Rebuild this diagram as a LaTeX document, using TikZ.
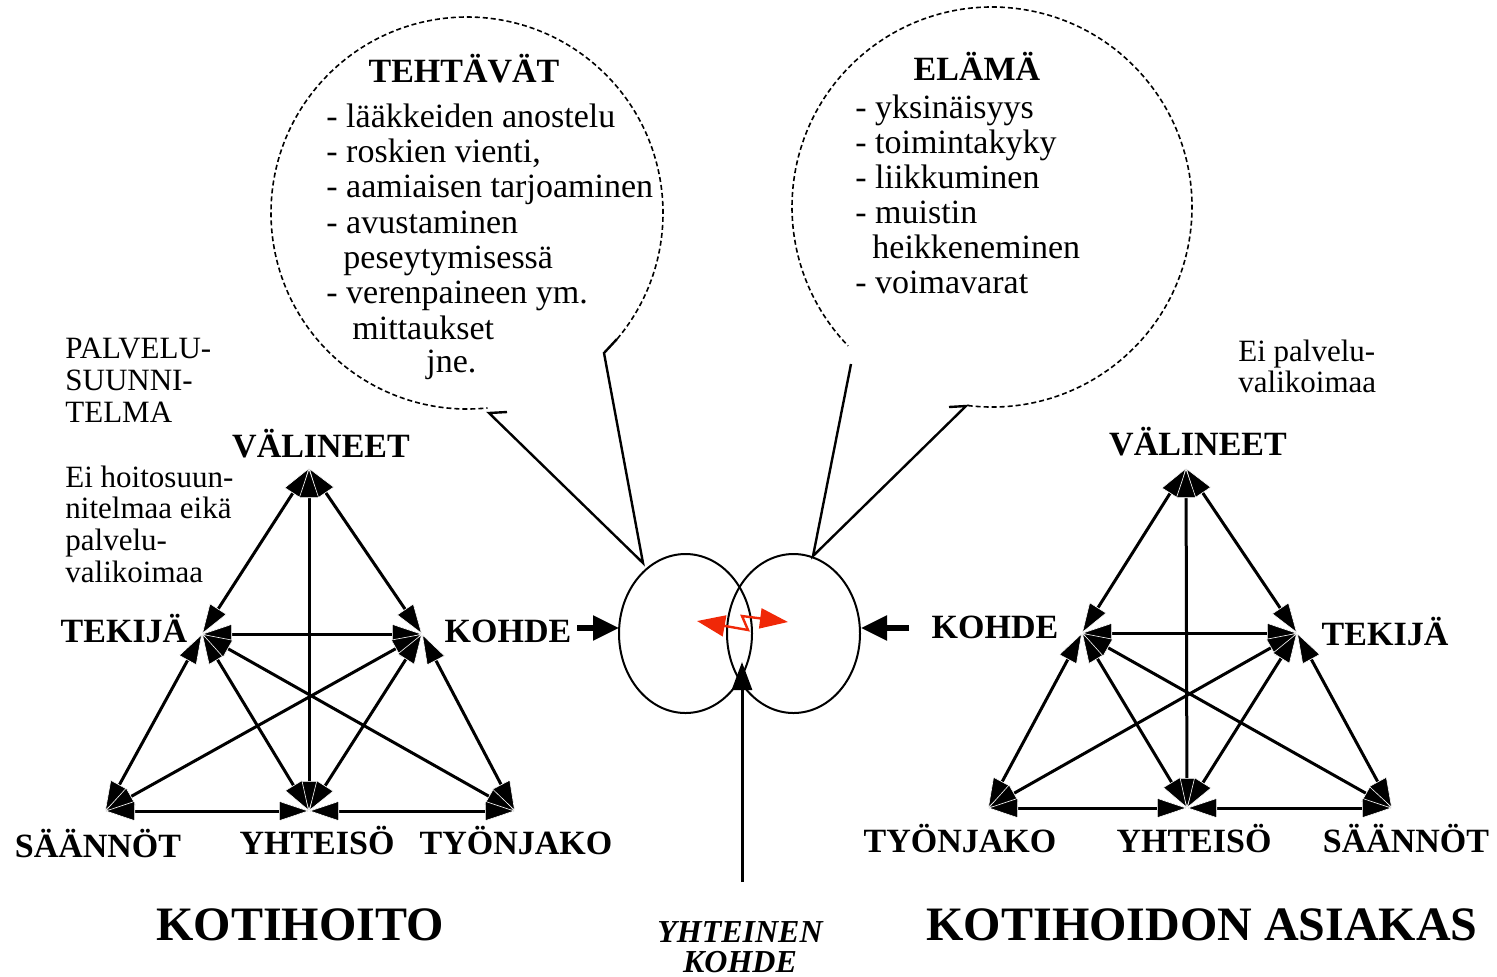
\documentclass[tikz,border=0pt]{standalone}
\usepackage{fontspec}
\setmainfont{Liberation Serif}
\usetikzlibrary{arrows.meta,shapes.geometric}
\begin{document}
\begin{tikzpicture}[x=0.5pt,y=-0.5pt,
  lab/.style={font=\fontsize{17}{17}\selectfont\bfseries, inner sep=0pt, anchor=base},
  title/.style={font=\fontsize{24}{24}\selectfont\bfseries, inner sep=0pt, anchor=base},
  body/.style={font=\fontsize{17}{17}\selectfont, inner sep=0pt, anchor=base west},
  side/.style={font=\fontsize{15.5}{15.5}\selectfont, inner sep=0pt, anchor=base west},
  tri/.style={line width=1.5pt, {Triangle[length=15pt,width=10pt,fill=black,color=white,line width=0.3pt]}-{Triangle[length=15pt,width=10pt,fill=black,color=white,line width=0.3pt]}},
  bubble/.style={line width=0.8pt, dash pattern=on 2.5pt off 1.5pt},
  tail/.style={line width=1.2pt, line join=miter},
  big/.style={line width=2.6pt, -{Triangle[length=13pt,width=12pt]}},
  bolt/.style={draw=boltred, line width=1.2pt, {Triangle[length=14pt,width=10.5pt]}-{Triangle[length=14pt,width=10pt]}},
  oval/.style={ellipse, draw, line width=1pt, inner sep=0pt, minimum width=66.5pt, minimum height=79.5pt}
]
\definecolor{boltred}{RGB}{240,40,8}
\useasboundingbox (0,0) rectangle (1497,976);

% ---------- speech bubbles ----------
\draw[bubble] (467,213) ++(40:196) arc[start angle=40, end angle=-276, radius=196];
\draw[tail] (617,339) -- (604,353) -- (643,563) -- (489,413) -- (507,412);
\draw[bubble] (992,207) ++(97:200) arc[start angle=97, end angle=-224, radius=200];
\draw[tail] (949,407) -- (966,406) -- (813,556) -- (851,364);

\node[lab] (teh) at (464,82) {TEHTÄVÄT};
\node[body] (t1) at (326,127) {- lääkkeiden anostelu};
\node[body] (t2) at (326,162) {- roskien vienti,};
\node[body] (t3) at (326,197) {- aamiaisen tarjoaminen};
\node[body] (t4) at (326,233) {- avustaminen};
\node[body] (t5) at (343,268) {peseytymisessä};
\node[body] (t6) at (326,303) {- verenpaineen ym.};
\node[body] (t7) at (352,339) {mittaukset};
\node[body] (t8) at (426,372) {jne.};

\node[lab] (ela) at (977,80) {ELÄMÄ};
\node[body] (e1) at (855,118) {- yksinäisyys};
\node[body] (e2) at (855,153) {- toimintakyky};
\node[body] (e3) at (855,188) {- liikkuminen};
\node[body] (e4) at (855,223) {- muistin};
\node[body] (e5) at (872,258) {heikkeneminen};
\node[body] (e6) at (855,293) {- voimavarat};

% ---------- side notes ----------
\node[side] (p1) at (65,358) {PALVELU-};
\node[side] (p2) at (65,390) {SUUNNI-};
\node[side] (p3) at (65,422) {TELMA};
\node[side] (h1) at (65,487) {Ei hoitosuun-};
\node[side] (h2) at (65,518) {nitelmaa eikä};
\node[side] (h3) at (65,550) {palvelu-};
\node[side] (h4) at (65,582) {valikoimaa};
\node[side] (r1) at (1238,361) {Ei palvelu-};
\node[side] (r2) at (1238,392) {valikoimaa};

% ---------- left triangle ----------
\node[lab] (lVl) at (321,457) {VÄLINEET};
\node[lab] (lTl) at (124,642) {TEKIJÄ};
\node[lab] (lKl) at (508,642) {KOHDE};
\node[lab] (lSl) at (98,857) {SÄÄNNÖT};
\node[lab] (lYl) at (317,854) {YHTEISÖ};
\node[lab] (lWl) at (516,854) {TYÖNJAKO};
\coordinate (lV) at (309,468);
\coordinate (lT) at (202,634);
\coordinate (lK) at (422,634);
\coordinate (lS) at (105,811);
\coordinate (lY) at (309,811);
\coordinate (lW) at (515,811);
\draw[tri] (lV) -- (lT);
\draw[tri] (lV) -- (lK);
\draw[tri] (lV) -- (lY);
\draw[tri] (lT) -- (lK);
\draw[tri] (lT) -- (lS);
\draw[tri] (lT) -- (lY);
\draw[tri] (lT) -- (lW);
\draw[tri] (lK) -- (lS);
\draw[tri] (lK) -- (lY);
\draw[tri] (lK) -- (lW);
\draw[tri] (lS) -- (lY);
\draw[tri] (lY) -- (lW);

% ---------- right triangle ----------
\node[lab] (rVl) at (1198,455) {VÄLINEET};
\node[lab] (rKl) at (995,638) {KOHDE};
\node[lab] (rTl) at (1385,645) {TEKIJÄ};
\node[lab] (rWl) at (960,852) {TYÖNJAKO};
\node[lab] (rYl) at (1194,852) {YHTEISÖ};
\node[lab] (rSl) at (1406,852) {SÄÄNNÖT};
\coordinate (rV) at (1186,468);
\coordinate (rK) at (1082,633);
\coordinate (rT) at (1297,633);
\coordinate (rW) at (988,808);
\coordinate (rY) at (1187,808);
\coordinate (rS) at (1392,808);
\draw[tri] (rV) -- (rK);
\draw[tri] (rV) -- (rT);
\draw[tri] (rV) -- (rY);
\draw[tri] (rK) -- (rT);
\draw[tri] (rK) -- (rW);
\draw[tri] (rK) -- (rY);
\draw[tri] (rK) -- (rS);
\draw[tri] (rT) -- (rW);
\draw[tri] (rT) -- (rY);
\draw[tri] (rT) -- (rS);
\draw[tri] (rW) -- (rY);
\draw[tri] (rY) -- (rS);

% ---------- centre ----------
\node[oval] (o1) at (685.5,633.5) {};
\node[oval] (o2) at (793.5,633.5) {};
\coordinate (kaS) at (577,628);
\coordinate (kaE) at (619,628);
\coordinate (kbS) at (909,628);
\coordinate (kbE) at (861,628);
\draw[big] (kaS) -- (kaE);
\draw[big] (kbS) -- (kbE);
\coordinate (bs) at (742,882);
\coordinate (be) at (742,662);
\draw[line width=1.5pt, -{Triangle[length=14pt,width=10pt]}] (bs) -- (be);
\coordinate (z1) at (697,621);
\coordinate (z2) at (748,630);
\coordinate (z3) at (742,616);
\coordinate (z4) at (788,622);
\draw[bolt] (z1) -- (z2) -- (z3) -- (z4);

% ---------- titles ----------
\node[title] (kot) at (300,940) {KOTIHOITO};
\node[title] (asi) at (1202,940) {KOTIHOIDON ASIAKAS};
\node[font=\fontsize{16}{16}\selectfont\bfseries\itshape, inner sep=0pt, anchor=base] (yk1) at (740,942) {YHTEINEN};
\node[font=\fontsize{16}{16}\selectfont\bfseries\itshape, inner sep=0pt, anchor=base] (yk2) at (740,972) {KOHDE};
\end{tikzpicture}
\end{document}
